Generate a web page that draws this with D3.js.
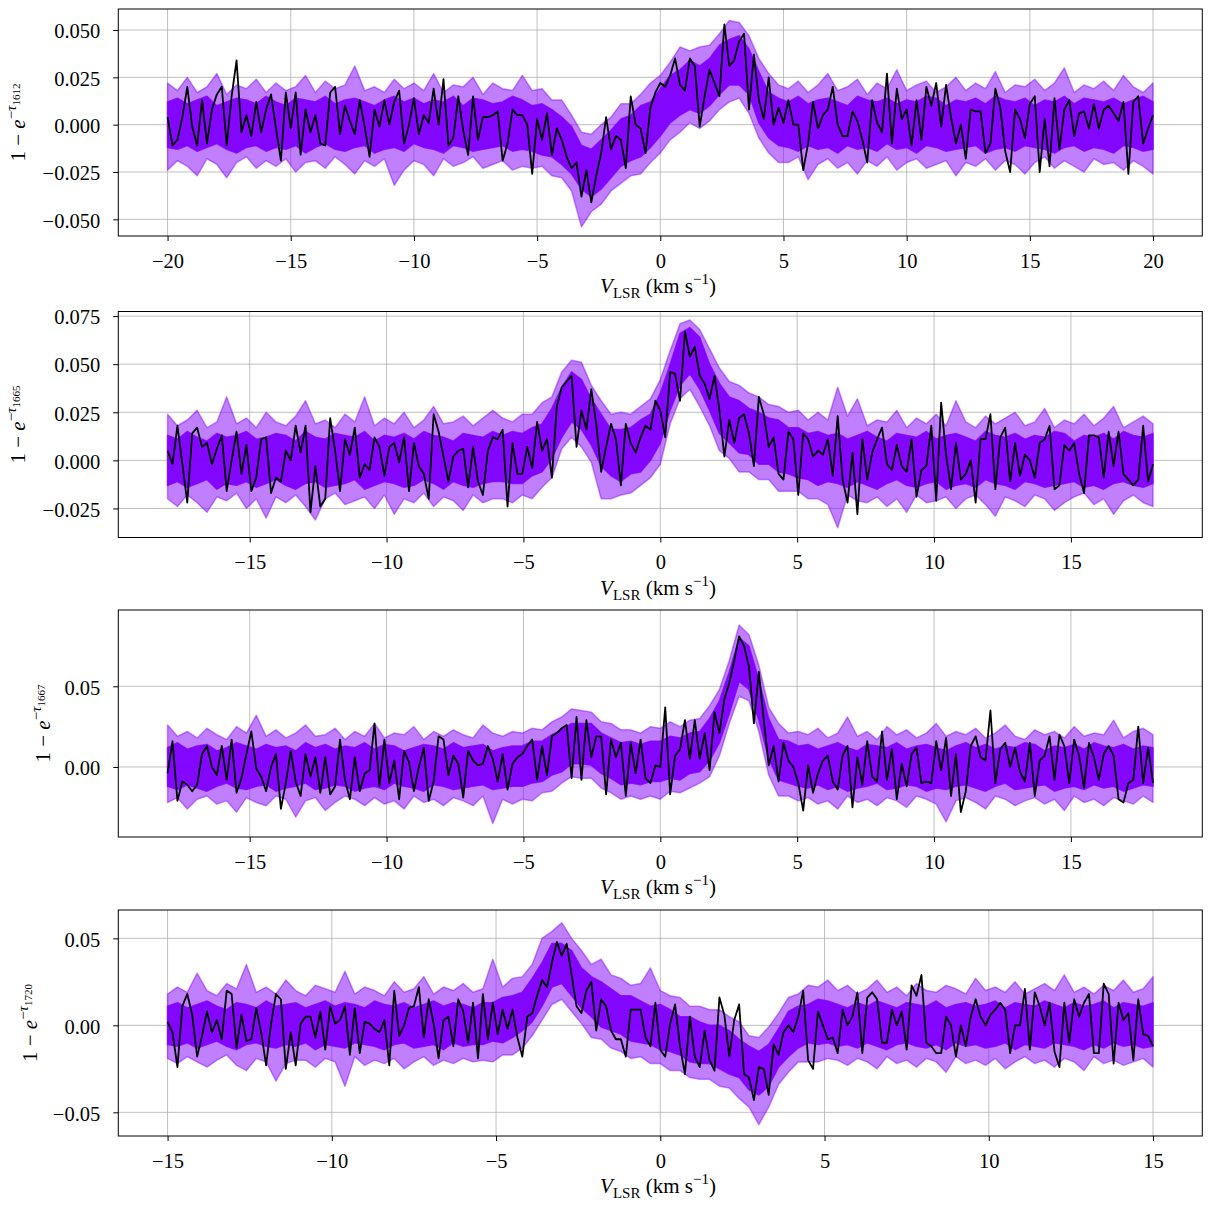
<!DOCTYPE html>
<html>
<head>
<meta charset="utf-8">
<script src="https://cdn.jsdelivr.net/npm/d3@7"></script>
<style>
body { margin: 0; background: #fff; }
svg { display: block; }
svg text { font-family: "Liberation Serif", "DejaVu Serif", serif; fill: #000; }
</style>
</head>
<body>
<svg id="chart" width="1211" height="1211"></svg>
<script>
// all spectrum values are 1 - exp(-tau) in units of 1e-3

// transitions and velocity ranges of each spectrum (km/s)
var transitions = ["1612", "1665", "1667", "1720"];
var velRanges = [[-20, 20], [-18, 18], [-18, 18], [-15, 15]];

// axis limits and ticks
var xDomains = [[-22, 22], [-19.8, 19.8], [-19.8, 19.8], [-16.5, 16.5]];
var yDomains = [[-58.8, 61.1], [-40.1, 77.4], [-43.4, 97.3], [-63.6, 66.3]];
var xTicks = [[-20, -15, -10, -5, 0, 5, 10, 15, 20], [-15, -10, -5, 0, 5, 10, 15], [-15, -10, -5, 0, 5, 10, 15], [-15, -10, -5, 0, 5, 10, 15]];
var yTicks = [[-50, -25, 0, 25, 50], [-25, 0, 25, 50, 75], [0, 50], [-50, 0, 50]];
var yTickLabels = [["−0.050", "−0.025", "0.000", "0.025", "0.050"], ["−0.025", "0.000", "0.025", "0.050", "0.075"], ["0.00", "0.05"], ["−0.05", "0.00", "0.05"]];

// observed spectra (black)
var black1612 = [4,-11,-8,4,20,-1,-11,13,-10,8,16,20,-11,15,34,-4,5,-6,12,-4,8,16,-2,-19,17,-2,17,-16,8,-4,5,-10,-11,17,20,-5,10,2,-5,13,-1,-17,8,-1,13,0,12,18,
  -10,0,14,-5,5,1,19,0,24,-11,-7,15,-3,-16,15,-8,4,4,5,7,-19,-10,8,5,5,0,-26,3,-8,6,-16,-2,-8,-17,-23,-20,-38,-24,-41,-27,-15,4,-13,-6,-8,-23,15,0,-2,-15,9,17,22,20,26,35,21,18,35,31,-1,15,29,22,15,53,31,34,44,48,8,37,13,3,25,0,9,1,13,0,0,
  -24,-10,12,-2,5,8,20,0,-6,-6,7,2,-8,-20,13,1,-4,27,-10,19,3,8,-11,13,-8,20,10,22,-1,21,4,-10,0,-18,8,7,7,-15,-10,19,9,-14,-25,8,3,-7,11,15,-25,3,-22,14,-13,8,13,-6,6,7,-2,11,-2,8,10,6,2,12,-26,12,15,-10,-2,5];
var black1665 = [5,-2,18,-2,-22,14,17,7,9,-2,6,13,-16,0,15,-7,8,-16,-9,11,12,-17,-9,-11,5,0,18,4,18,-27,-3,-24,-20,22,5,-16,11,3,17,-9,-2,-5,12,7,-8,7,9,-1,
  12,-16,9,-3,-7,-20,24,15,2,-11,2,5,6,-14,7,-11,-18,5,12,11,16,-24,9,-7,-7,7,-4,20,5,11,-9,28,38,41,44,7,26,16,37,19,-6,7,19,11,-13,19,9,4,12,18,16,31,26,12,46,45,31,67,54,59,44,40,32,44,26,2,21,9,22,24,14,-3,33,24,7,12,-7,-10,15,11,-18,
  14,11,2,5,3,11,-8,23,-10,-22,4,-28,11,-10,4,11,17,-2,-5,8,-3,-6,11,-19,-5,-3,18,-21,30,3,-15,9,-10,-7,0,-22,11,11,24,-15,12,17,-11,9,-8,3,0,-9,9,11,18,-15,-13,8,5,9,-7,-17,13,13,12,-9,15,-3,15,-7,-10,-13,-10,18,-11,-2];
var black1667 = [-4,16,-21,-9,-11,-15,-11,8,13,0,-5,13,-8,17,-16,-7,8,22,-1,-6,-15,0,8,-26,-10,10,-9,-18,8,-6,6,-16,6,-17,-12,17,-8,-20,6,-15,-4,-2,27,-12,17,-10,4,-20,
  10,3,-15,0,12,-21,-9,19,17,-5,7,2,-19,10,4,1,2,13,5,-9,8,-14,2,6,8,13,17,-8,13,-5,19,21,24,26,-7,31,-8,29,6,19,19,-17,17,6,15,-18,15,-4,17,-7,-10,1,0,37,-17,7,11,29,5,29,5,21,-2,34,21,42,52,66,81,75,62,27,59,29,1,13,-9,15,4,0,-10,
  -27,1,-16,-4,4,7,-9,-14,7,13,-25,6,-11,16,-6,-9,22,-8,11,-20,2,-12,8,12,-10,-9,-10,16,-2,18,-18,8,-28,-15,13,19,6,4,35,-10,11,15,0,12,-3,-9,15,-18,4,7,19,-8,20,13,-10,17,7,-13,15,6,-8,8,13,7,-20,-22,-10,-8,25,-10,12,-10];
var black1720 = [2,-4,-24,11,18,6,-18,-6,8,-4,3,-8,20,18,-13,6,-9,-8,10,-4,-23,1,18,15,-25,-4,-23,1,5,5,-7,8,-14,11,1,3,11,-17,10,-16,2,1,-2,-4,3,-23,20,-6,
  0,10,11,22,-7,15,1,-19,3,5,-12,15,8,-10,13,-19,18,-8,13,-5,9,-2,9,-7,-18,5,7,17,26,22,36,48,40,47,29,11,7,20,25,-3,15,11,-3,-8,-8,-18,9,9,9,-7,-12,13,-14,-18,1,12,-12,-28,5,-18,-24,-3,-20,-26,16,6,-18,3,12,-28,-30,-43,-24,-25,-40,-11,-17,-4,0,-4,5,
  20,-20,-25,8,0,-8,-7,-16,9,0,5,19,-16,16,19,15,-10,-10,9,0,8,-14,23,17,29,-10,-12,-16,-16,5,0,-18,0,-12,5,15,5,0,6,9,13,9,-16,0,0,21,-14,19,11,0,13,-15,-24,13,-10,15,5,13,18,-16,-16,24,18,-22,13,3,7,-20,15,-5,-6,-12];

// posterior predictive samples (purple): dense core band and outer spread
var coreHi1612 = [12,14,11,13,15,10,12,14,13,11,15,12,10,14,13,12,15,11,13,14,12,10,13,15,12,14,11,13,12,15,10,14,13,11,12,15,13,
  10,11,8,4,-1,-11,-13,-8,-3,3,5,10,12,19,26,29,34,31,35,42,45,47,40,28,17,14,
  12,15,11,13,14,12,10,15,13,12,14,11,13,12,15,14,10,13,12,14,11,15,13,12,14,10,13,12,15,11,14,13,12,14,11,13,15,12];
var coreLo1612 = [-12,-13,-11,-14,-12,-10,-13,-15,-12,-11,-14,-12,-13,-11,-15,-12,-10,-13,-14,-12,-11,-15,-13,-12,-14,-10,-12,-13,-15,-11,-12,-14,-13,-12,-11,-14,-13,
  -14,-16,-17,-21,-26,-34,-38,-34,-28,-22,-19,-17,-12,-6,1,5,8,6,10,16,21,21,16,1,-7,-11,
  -12,-14,-11,-13,-12,-15,-11,-13,-12,-14,-10,-13,-12,-15,-11,-12,-14,-13,-12,-11,-15,-13,-12,-14,-11,-12,-13,-15,-12,-11,-14,-12,-13,-15,-11,-12,-14,-13];
var outHi1612 = [22,18,25,17,20,27,16,21,19,24,17,22,18,20,26,17,23,19,21,31,18,20,17,24,19,22,18,27,17,21,20,25,16,22,19,18,26,
  18,19,13,13,5,-4,-5,0,4,11,11,16,22,26,33,41,39,41,42,48,55,54,47,35,27,21,
  19,23,17,21,27,18,20,24,16,22,19,29,18,21,23,17,20,25,18,22,19,28,17,21,20,24,18,22,30,17,21,19,23,18,26,20,17,22];
var outLo1612 = [-24,-19,-22,-27,-18,-21,-28,-20,-17,-23,-19,-22,-18,-25,-20,-19,-23,-17,-21,-26,-19,-22,-18,-32,-24,-19,-21,-27,-18,-22,-20,-17,-23,-21,-19,-24,-22,
  -23,-22,-27,-28,-35,-54,-46,-42,-35,-31,-27,-26,-20,-15,-8,-4,1,-2,2,8,12,14,6,-7,-15,-20,
  -20,-17,-29,-21,-18,-23,-20,-26,-19,-22,-17,-24,-20,-18,-23,-21,-19,-27,-20,-22,-18,-24,-19,-21,-26,-20,-17,-23,-19,-22,-25,-18,-21,-20,-24,-19,-22,-26];

var coreHi1665 = [13,11,15,12,10,14,12,13,15,11,12,14,13,10,15,12,11,14,13,12,15,10,13,12,14,11,15,13,12,10,14,13,12,15,
  13,15,14,17,19,27,38,46,42,32,24,16,16,17,21,24,35,50,66,69,64,50,40,33,31,27,25,22,21,17,17,14,15,13,
  14,11,13,15,12,10,14,13,12,15,11,13,14,12,10,15,13,12,14,11,13,12,15,14,10,13,12,14,11,15,13,12,14];
var coreLo1665 = [-13,-11,-14,-12,-10,-15,-12,-13,-11,-14,-12,-10,-13,-15,-12,-11,-14,-13,-12,-10,-15,-13,-11,-12,-14,-13,-10,-12,-15,-11,-13,-14,-12,-11,
  -11,-12,-12,-8,-6,1,12,20,16,8,-3,-8,-11,-7,-6,0,9,26,39,45,37,26,14,9,4,3,-2,-2,-6,-7,-9,-10,-13,-11,
  -12,-14,-11,-13,-15,-12,-10,-13,-14,-12,-11,-15,-13,-12,-14,-10,-12,-13,-15,-11,-12,-14,-13,-12,-11,-14,-13,-15,-12,-11,-13,-14,-12];
var outHi1665 = [24,18,21,26,17,20,33,19,22,17,25,20,18,23,31,19,21,17,24,20,33,18,22,19,25,17,21,28,19,20,23,18,22,26,
  22,20,24,24,30,33,46,52,51,39,31,24,25,24,28,32,42,57,71,73,68,58,48,41,39,35,33,29,28,25,26,21,25,21,
  38,23,32,18,21,20,26,17,22,19,24,18,31,20,17,23,19,22,25,18,20,27,17,21,19,24,18,22,28,17,20,23,19];
var outLo1665 = [-20,-24,-18,-22,-27,-19,-21,-17,-25,-20,-30,-19,-22,-18,-24,-31,-20,-17,-23,-21,-19,-25,-18,-28,-20,-22,-17,-24,-19,-21,-26,-18,-22,-20,
  -20,-22,-18,-20,-14,-9,6,12,7,-1,-20,-20,-18,-17,-13,-9,-2,19,32,37,28,18,5,1,-6,-6,-10,-10,-16,-16,-16,-20,-20,-23,
  -35,-18,-21,-22,-19,-24,-20,-27,-18,-22,-21,-19,-25,-20,-18,-23,-29,-19,-21,-24,-18,-20,-26,-22,-19,-17,-23,-20,-28,-21,-18,-22,-24];

var coreHi1667 = [12,15,11,13,14,10,12,15,13,11,14,12,13,10,15,12,14,11,13,12,15,11,14,13,10,12,14,13,11,15,12,13,14,10,12,13,
  13,16,16,20,23,27,27,27,21,18,15,16,14,16,16,19,18,21,22,30,41,59,80,75,54,30,17,16,13,
  14,11,13,15,12,10,14,13,12,15,11,13,14,12,10,13,15,12,14,11,13,12,15,14,10,13,12,14,11,15,13,12,14,11,13,12];
var coreLo1667 = [-12,-14,-11,-13,-15,-12,-10,-13,-14,-12,-11,-15,-13,-12,-10,-14,-13,-11,-12,-15,-13,-12,-14,-10,-12,-13,-15,-11,-12,-14,-13,-12,-11,-14,-13,-12,
  -12,-10,-9,-5,-3,2,2,1,-4,-7,-11,-10,-11,-9,-9,-7,-8,-4,-3,4,15,33,53,48,29,5,-8,-10,-12,
  -13,-11,-14,-12,-15,-13,-12,-10,-14,-13,-11,-12,-15,-13,-14,-12,-11,-13,-15,-12,-10,-14,-13,-12,-11,-15,-13,-12,-14,-11,-13,-12,-15,-13,-11,-12];
var outHi1667 = [26,19,22,18,24,20,17,25,21,32,19,23,18,21,26,19,20,24,17,22,19,27,18,21,20,25,17,22,19,23,20,18,26,21,19,22,
  21,24,23,28,31,36,35,34,28,27,23,23,21,25,24,28,25,29,30,38,48,66,88,82,63,37,27,21,22,
  20,24,18,21,31,19,22,17,25,20,23,18,21,27,19,22,20,24,18,21,26,19,17,23,20,22,18,25,19,21,20,29,18,22,24,20];
var outLo1667 = [-22,-19,-26,-20,-18,-23,-21,-28,-19,-22,-24,-18,-20,-31,-21,-19,-27,-22,-18,-20,-24,-19,-23,-21,-26,-18,-22,-20,-24,-19,-21,-24,-18,-35,-20,-23,
  -20,-21,-16,-15,-10,-6,-7,-7,-13,-16,-20,-18,-20,-18,-20,-15,-16,-13,-10,-6,7,27,44,41,22,-5,-18,-18,-21,
  -19,-23,-21,-26,-18,-22,-20,-24,-19,-21,-25,-18,-20,-23,-34,-21,-19,-22,-26,-18,-20,-24,-21,-19,-23,-20,-27,-18,-22,-20,-24,-19,-21,-23,-18,-22];

var coreHi1720 = [11,13,10,12,14,11,9,13,12,10,14,11,12,13,10,12,14,11,13,12,10,14,12,11,13,10,12,14,11,13,12,10,
  13,13,16,17,19,27,36,47,47,43,33,28,25,21,17,17,14,11,12,9,5,5,2,0,0,-3,-8,-12,-15,-11,-2,8,11,12,15,14,
  12,10,13,11,14,12,10,13,12,11,14,10,12,13,11,12,14,10,13,12,11,14,12,10,13,11,12,14,10,13,12,11,13];
var coreLo1720 = [-11,-12,-10,-13,-11,-9,-12,-14,-11,-10,-12,-13,-11,-12,-10,-14,-11,-12,-13,-10,-11,-12,-14,-11,-10,-13,-12,-11,-14,-10,-12,-11,
  -11,-9,-10,-7,-3,2,11,22,24,17,10,5,-1,-3,-5,-9,-10,-11,-14,-15,-17,-21,-22,-22,-25,-28,-30,-37,-40,-35,-24,-18,-13,-10,-11,-10,
  -12,-11,-13,-10,-12,-14,-11,-10,-12,-13,-11,-14,-10,-12,-11,-13,-12,-10,-14,-11,-12,-13,-10,-11,-12,-14,-11,-13,-10,-12,-11,-13,-12];
var outHi1720 = [18,22,19,30,20,17,24,21,35,19,22,18,26,20,17,23,21,19,31,18,22,20,17,25,19,21,28,18,22,20,24,19,
  21,38,22,27,28,35,50,54,59,50,43,35,38,29,27,23,24,33,20,17,16,11,11,9,9,5,2,-6,-7,-1,7,16,18,23,22,26,
  20,23,18,21,26,19,22,17,24,20,19,23,21,18,27,20,22,19,25,18,21,24,20,29,19,22,18,23,20,26,19,21,28];
var outLo1720 = [-19,-22,-18,-21,-24,-20,-17,-23,-26,-19,-21,-32,-22,-20,-20,-24,-19,-21,-35,-18,-23,-20,-22,-19,-25,-21,-18,-23,-20,-22,-19,-21,
  -20,-21,-17,-17,-13,-6,3,12,15,8,1,-7,-8,-13,-15,-19,-18,-22,-22,-26,-26,-30,-31,-31,-35,-36,-42,-47,-57,-47,-34,-27,-21,-21,-21,-19,
  -20,-23,-19,-21,-25,-18,-22,-20,-24,-19,-21,-27,-18,-22,-20,-23,-19,-25,-21,-18,-22,-20,-24,-19,-21,-26,-18,-22,-20,-23,-21,-19,-24];

// table of panels built from the arrays above
var panels = [
  {black: black1612, coreHi: coreHi1612, coreLo: coreLo1612, outHi: outHi1612, outLo: outLo1612},
  {black: black1665, coreHi: coreHi1665, coreLo: coreLo1665, outHi: outHi1665, outLo: outLo1665},
  {black: black1667, coreHi: coreHi1667, coreLo: coreLo1667, outHi: outHi1667, outLo: outLo1667},
  {black: black1720, coreHi: coreHi1720, coreLo: coreLo1720, outHi: outHi1720, outLo: outLo1720}
];

// layout
var left = 118.3, right = 1202.3;
var panelTop = [9, 311.5, 610, 910];
var panelBottom = [236, 537.5, 837, 1136];
var ylabelX = [25, 25, 50, 36.5];
var purple = "#8000ff";

var svg = d3.select("#chart");

function minusLabel(d) {
  return d < 0 ? "−" + Math.abs(d) : String(d);
}

function xLabel(g, cx, by) {
  var t = g.append("text").attr("x", cx).attr("y", by).attr("text-anchor", "middle").style("font-size", "21px");
  t.append("tspan").style("font-style", "italic").text("V");
  t.append("tspan").attr("dy", 5).style("font-size", "15px").text("LSR");
  t.append("tspan").attr("dy", -5).text(" (km s");
  t.append("tspan").attr("dy", -9).style("font-size", "15px").text("−1");
  t.append("tspan").attr("dy", 9).text(")");
}

function yLabel(g, bx, cy, sub) {
  var t = g.append("text")
    .attr("transform", "translate(" + bx + "," + cy + ") rotate(-90)")
    .attr("text-anchor", "middle").style("font-size", "21px");
  t.append("tspan").text("1 − ");
  t.append("tspan").style("font-style", "italic").text("e");
  t.append("tspan").attr("dy", -9).style("font-size", "15px").text("−");
  t.append("tspan").style("font-size", "15px").style("font-style", "italic").text("τ");
  t.append("tspan").attr("dy", 4).style("font-size", "11px").text(sub);
}

panels.forEach(function(p, k) {
  var top = panelTop[k], bottom = panelBottom[k];
  var x = d3.scaleLinear().domain(xDomains[k]).range([left, right]);
  var y = d3.scaleLinear().domain(yDomains[k]).range([bottom, top]);
  var v0 = velRanges[k][0], v1 = velRanges[k][1];
  // channel velocity of point i in an array of n channels
  var vel = function(n, i) { return v0 + i * (v1 - v0) / (n - 1); };

  var g = svg.append("g");

  svg.append("clipPath").attr("id", "clip" + k)
    .append("rect").attr("x", left).attr("y", top).attr("width", right - left).attr("height", bottom - top);

  // grid
  g.selectAll(".vg").data(xTicks[k]).enter().append("line")
    .attr("x1", function(d) { return x(d); }).attr("x2", function(d) { return x(d); })
    .attr("y1", top).attr("y2", bottom)
    .attr("stroke", "#b0b0b0").attr("stroke-width", 0.8);
  g.selectAll(".hg").data(yTicks[k]).enter().append("line")
    .attr("y1", function(d) { return y(d); }).attr("y2", function(d) { return y(d); })
    .attr("x1", left).attr("x2", right)
    .attr("stroke", "#b0b0b0").attr("stroke-width", 0.8);

  var plot = g.append("g").attr("clip-path", "url(#clip" + k + ")");

  // purple samples: outer spread, then dense core
  var band = function(lo) {
    return d3.area()
      .x(function(d, i) { return x(vel(lo.length, i)); })
      .y0(function(d, i) { return y(lo[i]); })
      .y1(function(d) { return y(d); });
  };
  plot.append("path").attr("d", band(p.outLo)(p.outHi))
    .attr("fill", purple).attr("fill-opacity", 0.5)
    .attr("stroke", purple).attr("stroke-opacity", 0.45).attr("stroke-width", 1.5).attr("stroke-linejoin", "round");
  plot.append("path").attr("d", band(p.coreLo)(p.coreHi))
    .attr("fill", purple).attr("fill-opacity", 0.95)
    .attr("stroke", purple).attr("stroke-opacity", 0.8).attr("stroke-width", 1.5).attr("stroke-linejoin", "round");

  // observed spectrum
  var line = d3.line()
    .x(function(d, i) { return x(vel(p.black.length, i)); })
    .y(function(d) { return y(d); });
  plot.append("path").attr("d", line(p.black))
    .attr("fill", "none").attr("stroke", "#000").attr("stroke-width", 1.8).attr("stroke-linejoin", "round");

  // axes
  var xa = g.append("g").attr("transform", "translate(0," + bottom + ")")
    .call(d3.axisBottom(x).tickValues(xTicks[k]).tickSize(5).tickPadding(12).tickFormat(minusLabel));
  var ya = g.append("g").attr("transform", "translate(" + left + ",0)")
    .call(d3.axisLeft(y).tickValues(yTicks[k]).tickSize(5).tickPadding(13)
      .tickFormat(function(d, i) { return yTickLabels[k][i]; }));
  [xa, ya].forEach(function(a) {
    a.select(".domain").remove();
    a.selectAll("text").style("font-size", "20.5px").attr("font-family", null);
    a.selectAll("line").attr("stroke", "#000").attr("stroke-width", 1);
  });
  ya.selectAll("text").attr("dy", "0.38em");

  // spines
  g.append("rect").attr("x", left).attr("y", top).attr("width", right - left).attr("height", bottom - top)
    .attr("fill", "none").attr("stroke", "#000").attr("stroke-width", 1);

  xLabel(g, 658, bottom + 57);
  yLabel(g, ylabelX[k], (top + bottom) / 2, transitions[k]);
});
</script>
</body>
</html>
